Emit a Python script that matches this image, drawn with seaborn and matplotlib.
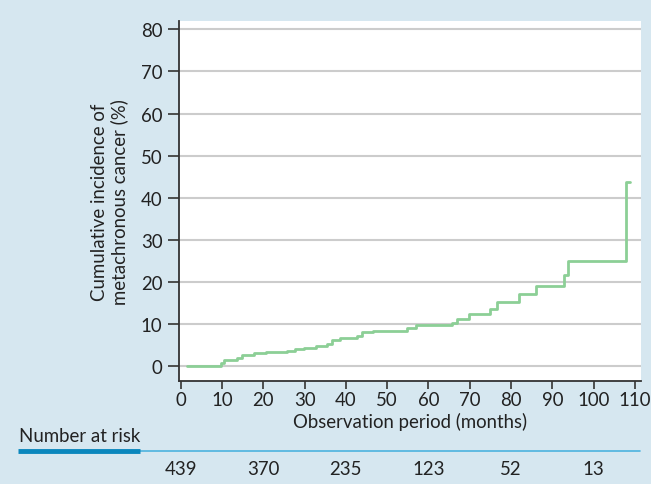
import pandas as pd
import seaborn as sns
import matplotlib.pyplot as plt
from matplotlib.lines import Line2D
from matplotlib import transforms

# step points of the cumulative incidence curve (months, %)
months = [1.6, 9.7, 10.5, 13.7, 14.8, 17.7, 20.6, 25.8, 27.8, 29.9, 32.7, 35.5,
          36.7, 38.7, 42.7, 43.8, 46.6, 54.9, 56.9, 65.8, 66.8, 69.8, 74.9, 76.7,
          81.9, 86.0, 92.8, 93.9, 107.9, 108.7]
incidence = [0, 0.6, 1.4, 1.8, 2.6, 3.0, 3.25, 3.55, 4.0, 4.3, 4.7, 5.2,
             6.25, 6.6, 7.05, 8.0, 8.3, 8.95, 9.6, 10.3, 11.2, 12.3, 13.5, 15.3,
             17.1, 19.1, 21.6, 25.0, 43.6, 43.6]

risk_months = [0, 20, 40, 60, 80, 100]
at_risk = [439, 370, 235, 123, 52, 13]

curve = pd.DataFrame({'months': months, 'incidence': incidence})

sns.set_theme(style='white')
plt.rcParams['font.family'] = ['Lato', 'DejaVu Sans']

fs = 13.4
bg = '#d6e7f0'
fig = plt.figure(figsize=(6.51, 4.85), dpi=100, facecolor=bg)
ax = fig.add_axes([0.2750, 0.2124, 0.7098, 0.7422])
ax.set_facecolor('white')

sns.lineplot(data=curve, x='months', y='incidence', ax=ax, color='#8ccf96',
             linewidth=2, drawstyle='steps-post', estimator=None)

ax.set_xlim(-0.4, 111.5)
ax.set_ylim(-3.6, 82)
ax.set_xticks(range(0, 111, 10))
ax.set_yticks(range(0, 81, 10))
ax.yaxis.grid(True, color='#cccccc', linewidth=1.5)
ax.set_axisbelow(True)

for s in ['top', 'right']:
    ax.spines[s].set_visible(False)
for s in ['left', 'bottom']:
    ax.spines[s].set_color('#333333')
    ax.spines[s].set_linewidth(1.3)

ax.tick_params(axis='y', direction='out', length=8, width=1.2, color='#333333',
               labelsize=fs, labelcolor='#222222', pad=4, left=True)
ax.tick_params(axis='x', direction='out', length=6, width=1.2, color='#333333',
               labelsize=fs, labelcolor='#222222', pad=1, bottom=True)

ax.set_xlabel('Observation period (months)', fontsize=fs, color='#222222', labelpad=3)
ax.set_ylabel('Cumulative incidence of\nmetachronous cancer (%)', fontsize=fs,
              color='#222222', labelpad=9, linespacing=1.15)

# number at risk table
fig.text(19 / 651, 1 - 437 / 485, 'Number at risk', fontsize=fs, color='#222222',
         va='center', ha='left')
fig.add_artist(Line2D([140 / 651, 640 / 651], [1 - 452 / 485] * 2,
                      color='#4db3de', linewidth=1.2))
fig.add_artist(Line2D([18 / 651, 140 / 651], [1 - 452 / 485] * 2,
                      color='#0a87bd', linewidth=3.5, solid_capstyle='butt'))

trans = transforms.blended_transform_factory(ax.transData, fig.transFigure)
for m, n in zip(risk_months, at_risk):
    ax.text(m, 1 - 470 / 485, str(n), transform=trans, ha='center', va='center',
            fontsize=fs, color='#222222', clip_on=False)

fig.savefig('out.png', dpi=100, facecolor=bg)
